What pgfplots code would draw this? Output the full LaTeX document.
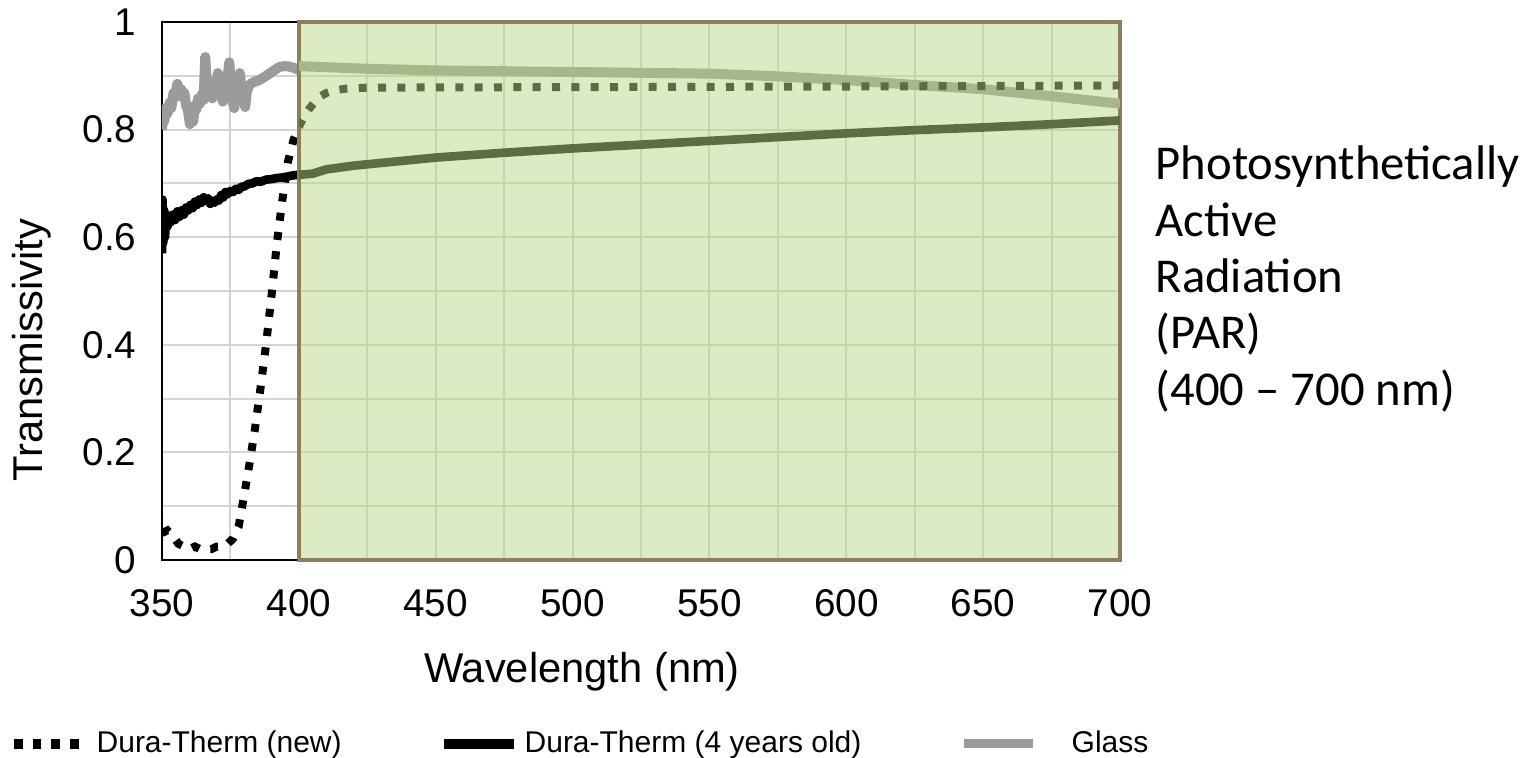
\documentclass[border=0pt]{standalone}
\usepackage{fontspec}
\setmainfont{Liberation Sans}
\newfontfamily\carlito{Carlito}
\usepackage{pgfplots}
\pgfplotsset{compat=1.18}
\definecolor{ParFill}{HTML}{DDEBC4}
\definecolor{ParGrid}{HTML}{C6D5AA}
\definecolor{ParEdge}{HTML}{8C7E5E}
\definecolor{GridGray}{HTML}{D4D4D4}
\definecolor{DarkGreen}{HTML}{5E6D41}
\definecolor{PaleGreen}{HTML}{A6B78A}
\definecolor{GlassGray}{HTML}{9B9B9B}

% new film (dotted), aged film (solid), glass; split at 400 nm where the colour changes
\pgfplotstableread{
x y
350 0.050
352 0.055
354 0.045
356 0.030
358 0.025
360 0.020
362 0.025
364 0.020
366 0.020
368 0.020
370 0.025
372 0.025
374 0.030
376 0.040
378 0.062
380 0.120
382 0.180
384 0.245
386 0.320
388 0.400
390 0.490
392 0.590
394 0.670
396 0.740
398 0.780
400 0.805
}\newuv
\pgfplotstableread{
x y
400 0.805
402 0.825
404 0.840
406 0.852
408 0.862
410 0.868
413 0.873
417 0.876
425 0.878
500 0.879
600 0.880
700 0.882
}\newpar
\pgfplotstableread{
x y
350.0 0.570
350.2 0.670
350.5 0.590
350.8 0.650
351.1 0.600
351.5 0.640
352.0 0.620
352.6 0.640
353.2 0.628
354.0 0.642
354.8 0.632
355.6 0.648
356.4 0.638
357.2 0.650
358.0 0.642
358.8 0.655
359.6 0.650
360.4 0.660
361.2 0.654
362.0 0.666
362.8 0.660
363.6 0.670
364.4 0.664
365.2 0.674
366.0 0.668
366.8 0.672
367.6 0.662
368.4 0.668
369.2 0.664
370.0 0.670
370.8 0.668
371.6 0.678
372.4 0.674
373.2 0.684
374.0 0.680
375.0 0.686
376.0 0.684
377.0 0.690
378.0 0.688
379.0 0.694
380.0 0.694
381.5 0.699
383.0 0.700
384.5 0.704
386.0 0.703
388.0 0.707
390.0 0.708
392.0 0.710
394.0 0.711
396.0 0.713
398.0 0.715
400.0 0.716
}\olduv
\pgfplotstableread{
x y
400 0.716
405 0.718
410 0.726
420 0.733
430 0.738
450 0.748
475 0.757
500 0.765
525 0.772
550 0.779
575 0.786
600 0.793
625 0.799
650 0.804
675 0.810
700 0.817
}\oldpar
\pgfplotstableread{
x y
350.0 0.800
350.4 0.835
350.8 0.815
351.4 0.840
352.0 0.830
352.8 0.850
353.4 0.840
354.2 0.868
354.8 0.860
355.6 0.885
356.2 0.872
357.0 0.875
357.6 0.860
358.2 0.868
358.8 0.845
359.5 0.835
360.2 0.810
360.8 0.825
361.4 0.815
362.0 0.845
362.6 0.838
363.2 0.858
363.8 0.848
364.5 0.865
365.2 0.855
365.8 0.935
366.2 0.900
366.8 0.880
367.2 0.862
367.8 0.880
368.4 0.858
369.0 0.885
369.6 0.875
370.4 0.905
371.0 0.885
371.6 0.870
372.2 0.852
372.8 0.875
373.4 0.862
374.0 0.900
374.6 0.925
375.2 0.880
375.8 0.852
376.4 0.840
377.0 0.870
377.6 0.862
378.4 0.905
379.0 0.880
379.6 0.860
380.4 0.842
381.0 0.870
381.6 0.880
382.4 0.885
383.4 0.888
384.5 0.890
385.9 0.893
387.5 0.898
389.5 0.905
391.5 0.912
393.1 0.917
395.0 0.918
396.7 0.917
398.5 0.914
400.0 0.911
}\glassuv
\pgfplotstableread{
x y
400 0.918
410 0.916
425 0.913
450 0.910
500 0.907
550 0.904
575 0.899
600 0.892
625 0.883
650 0.875
675 0.862
700 0.848
}\glasspar

\pgfplotsset{
  base/.style={scale only axis,anchor=south west,height=161.4pt,ymin=0,ymax=1,
    tick style={draw=none},clip=true},
  newline/.style={line width=2.4pt,dash pattern=on 2.4pt off 3.4pt},
  oldline/.style={line width=2.6pt,line join=round},
  glassline/.style={line width=3pt,line join=round},
}

\begin{document}
\begin{tikzpicture}
\useasboundingbox (-48.6pt,-59.4pt) rectangle (412.8pt,168pt);
\begin{axis}[base,at={(0,0)},width=287.4pt,
  xmin=350,xmax=700,
  xtick={350,400,...,700},minor xtick={375,425,...,675},
  ytick={0,0.2,0.4,0.6,0.8,1},minor ytick={0.1,0.3,0.5,0.7,0.9},
  grid=both,grid style={draw=GridGray,line width=0.6pt},
  minor grid style={draw=GridGray,line width=0.6pt},
  axis line style={draw=black,line width=0.8pt},
  /pgf/number format/assume math mode=true,
  tick label style={font=\fontsize{11.6}{14}\selectfont},
  xticklabel style={anchor=base,yshift=-17pt},
  yticklabel style={anchor=east,inner sep=0pt,xshift=-7.5pt},
  xlabel={Wavelength (nm)},ylabel={Transmissivity},
  every axis x label/.style={at={(axis description cs:0.4384,-0.2268)},anchor=base,
    font=\fontsize{12.5}{15}\selectfont},
  every axis y label/.style={at={(axis description cs:-0.1357,0.39)},anchor=center,rotate=90,
    font=\fontsize{12.5}{15}\selectfont}]
\addplot[no marks,GlassGray,glassline] table {\glassuv};
\addplot[no marks,black,oldline] table {\olduv};
\addplot[no marks,black,newline] table {\newuv};
\end{axis}
\begin{axis}[base,at={(41.057pt,0)},width=246.343pt,
  xmin=400,xmax=700,
  xtick={400,425,...,700},ytick={0,0.1,...,1},
  xticklabels={},yticklabels={},
  grid=major,grid style={draw=ParGrid,line width=0.6pt},
  axis background/.style={fill=ParFill},
  axis line style={draw=ParEdge,line width=1pt}]
\addplot[no marks,PaleGreen,glassline] table {\glasspar};
\addplot[no marks,DarkGreen,oldline] table {\oldpar};
\addplot[no marks,DarkGreen,newline] table {\newpar};
\end{axis}

% legend
\draw[black,line width=3pt,dash pattern=on 2.6pt off 3pt] (-44.4pt,-55.2pt) -- (-24.4pt,-55.2pt);
\node[anchor=base west,inner sep=0pt,font=\fontsize{9}{11}\selectfont] at (-19.8pt,-57.9pt) {Dura-Therm (new)};
\draw[black,line width=3pt] (84.6pt,-55.2pt) -- (105.6pt,-55.2pt);
\node[anchor=base west,inner sep=0pt,font=\fontsize{9}{11}\selectfont] at (108.6pt,-57.9pt) {Dura-Therm (4 years old)};
\draw[GlassGray,line width=2.7pt] (240.6pt,-55.2pt) -- (261.3pt,-55.2pt);
\node[anchor=base west,inner sep=0pt,font=\fontsize{9}{11}\selectfont] at (272.7pt,-57.9pt) {Glass};

% PAR note
\begin{scope}[every node/.style={anchor=base west,inner sep=0pt,font=\carlito\fontsize{14.6}{18}\selectfont}]
\node at (297.9pt,114pt) {Photosynthetically};
\node at (297.9pt,97.1pt) {Active};
\node at (297.9pt,80.2pt) {Radiation};
\node at (297.9pt,63.3pt) {(PAR)};
\node at (297.9pt,46.4pt) {(400 – 700 nm)};
\end{scope}
\end{tikzpicture}
\end{document}
